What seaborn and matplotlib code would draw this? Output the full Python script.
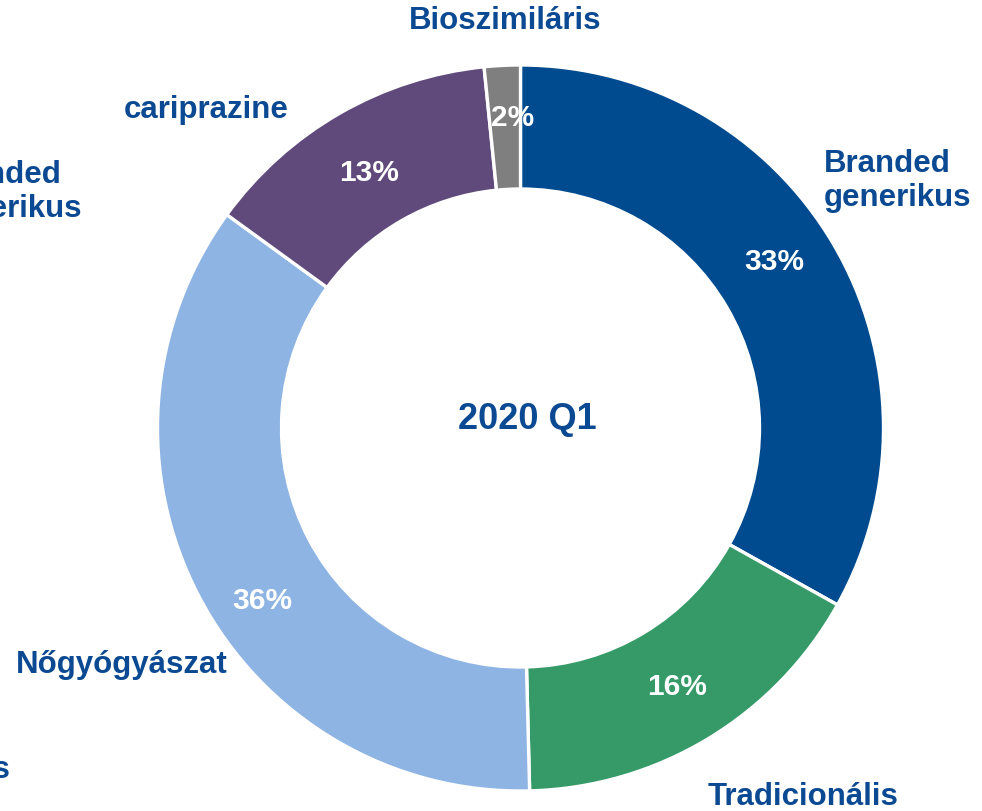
import matplotlib
matplotlib.use("Agg")
import matplotlib.pyplot as plt
import seaborn as sns

sns.set_theme(style="white")
plt.rcParams['font.family'] = ['Liberation Sans', 'DejaVu Sans']

# ---- data ----
categories = ["Branded generikus", "Tradicionális", "Nőgyógyászat", "cariprazine", "Bioszimiláris"]
values = [33.1, 16.5, 35.4, 13.4, 1.6]
pct_labels = ["33%", "16%", "36%", "13%", "2%"]
colors = ["#004A8F", "#359A67", "#8EB4E3", "#604A7B", "#7F7F7F"]
center_title = "2020 Q1"

TXT = "#0B4A92"
W, H = 982, 812
FS = 22.5

fig = plt.figure(figsize=(W / 100, H / 100), dpi=100)
ax = fig.add_axes([0, 0, 1, 1])

cx, cy = 520.5, H - 429
R, r_in = 363, 239
ax.pie(values, colors=colors, startangle=90, counterclock=False,
       center=(cx, cy), radius=R,
       wedgeprops=dict(width=R - r_in, edgecolor="white", linewidth=2.4))
ax.set_xlim(0, W)
ax.set_ylim(0, H)
ax.set_aspect("auto")
ax.axis("off")

# percentage labels (pixel positions from top-left)
pct_pos = [(774, 262), (677, 687), (262, 601), (369, 173), (513, 118)]
for lab, (x, y) in zip(pct_labels, pct_pos):
    ax.text(x, H - y, lab, color="white", fontsize=21.5, fontweight="bold",
            ha="center", va="center")

# category labels
ax.text(824, H - 181, "Branded\ngenerikus", color=TXT, fontsize=FS, fontweight="bold",
        ha="left", va="center", linespacing=1.2)
ax.text(803, H - 797, categories[1], color=TXT, fontsize=FS, fontweight="bold",
        ha="center", va="center")
ax.text(122, H - 665, categories[2], color=TXT, fontsize=FS, fontweight="bold",
        ha="center", va="center")
ax.text(206, H - 110, categories[3], color=TXT, fontsize=FS, fontweight="bold",
        ha="center", va="center")
ax.text(505, H - 21, categories[4], color=TXT, fontsize=FS, fontweight="bold",
        ha="center", va="center")

# clipped labels of a neighbouring chart at left edge
ax.text(-65, H - 192, "Branded\ngenerikus", color=TXT, fontsize=FS, fontweight="bold",
        ha="left", va="center", linespacing=1.2, clip_on=False)
ax.text(10, H - 770, "Tradicionális", color=TXT, fontsize=FS, fontweight="bold",
        ha="right", va="center", clip_on=False)

# centre title
ax.text(527, H - 420, center_title, color=TXT, fontsize=26, fontweight="bold",
        ha="center", va="center")

fig.savefig("out.png", dpi=100, facecolor="white")
